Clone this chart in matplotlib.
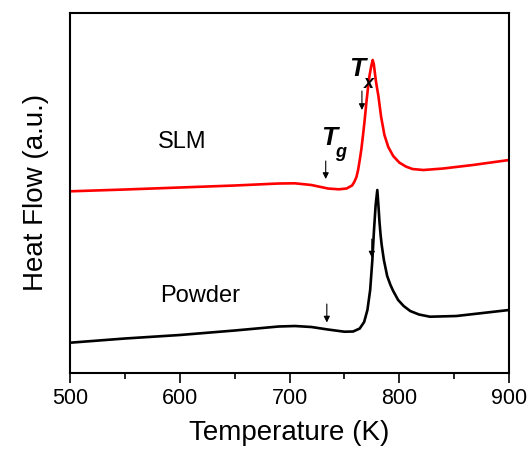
import numpy as np
import matplotlib
matplotlib.use("Agg")
from matplotlib import pyplot as plt

plt.rcParams['font.family'] = ['Liberation Sans', 'DejaVu Sans']

# SLM curve (red)
slm_T = [500, 550, 600, 650, 690, 705, 720, 735, 745, 752, 757, 759, 761, 762.5, 764, 765.5,
         767, 768.5, 770, 771.5, 773, 774.5, 775.8, 776.8, 777.8, 779, 781, 783.5, 786.5, 790,
         794.5, 800, 806, 812, 822, 840, 867, 900]
slm_hf = [181.7, 183.5, 185.5, 187.5, 189.5, 189.7, 188, 184.5, 183.7, 184.5, 187.5, 191, 196, 203, 213, 224,
          238, 253, 270, 285, 298, 307, 313, 309, 300, 290, 277, 256, 238, 226,
          217, 210.5, 206.5, 204, 203, 204.5, 208, 213]

# Powder curve (black)
pow_T = [500, 550, 600, 650, 690, 705, 720, 735, 750, 758, 764, 768, 771, 773.5, 775.5, 777,
         778.5, 780, 781, 782, 783, 784, 786, 789, 792, 794.5, 799, 804, 810, 818, 828, 852, 876, 900]
pow_hf = [30.3, 34.5, 38, 42.5, 46.5, 47, 46, 43.5, 41.3, 41.5, 44.5, 51, 63, 83, 113, 143,
          168, 183, 168, 151, 138, 128, 113, 97, 88, 82, 73, 67, 62, 58.5, 56.3, 57, 60, 63]

# arrow markers (T, start, end)
arrows = [(733, 212, 194), (766, 282, 263), (734, 69, 50.5), (775, 134, 115.5)]

fig = plt.figure(figsize=(5.28, 4.55), dpi=100)
ax = fig.add_axes([0.1326, 0.1802, 0.8314, 0.7923])

ax.plot(slm_T, slm_hf, color='#ff0000', lw=1.9)
ax.plot(pow_T, pow_hf, color='black', lw=1.9)

for t, y0, y1 in arrows:
    ax.annotate('', xy=(t, y1), xytext=(t, y0),
                arrowprops=dict(arrowstyle='-|>', color='black', lw=0.8,
                                mutation_scale=9, shrinkA=0, shrinkB=0))

ax.text(601.8, 231, 'SLM', fontsize=17, ha='center', va='center')
ax.text(618.5, 77.5, 'Powder', fontsize=17, ha='center', va='center')

# T_g and T_x labels (bold italic, subscript as separate text)
ax.text(736.5, 228, 'T', fontsize=19, fontweight='bold', style='italic', ha='center', va='baseline')
ax.text(741.5, 216, 'g', fontsize=13, fontweight='bold', style='italic', ha='left', va='baseline')
ax.text(761.5, 297, 'T', fontsize=19, fontweight='bold', style='italic', ha='center', va='baseline')
ax.text(768, 285, 'x', fontsize=13, fontweight='bold', style='italic', ha='left', va='baseline')

ax.set_xlim(500, 900)
ax.set_ylim(0, 360.5)
ax.set_xticks([500, 600, 700, 800, 900])
ax.set_xticks([550, 650, 750, 850], minor=True)
ax.tick_params(axis='x', which='major', length=7, width=1.2, labelsize=15.5, pad=4)
ax.tick_params(axis='x', which='minor', length=4, width=1.2)
ax.set_yticks([])
for s in ax.spines.values():
    s.set_linewidth(1.5)

ax.set_xlabel('Temperature (K)', fontsize=20, labelpad=8)
ax.set_ylabel('Heat Flow (a.u.)', fontsize=20, labelpad=15)

fig.savefig('out.png', dpi=100)
